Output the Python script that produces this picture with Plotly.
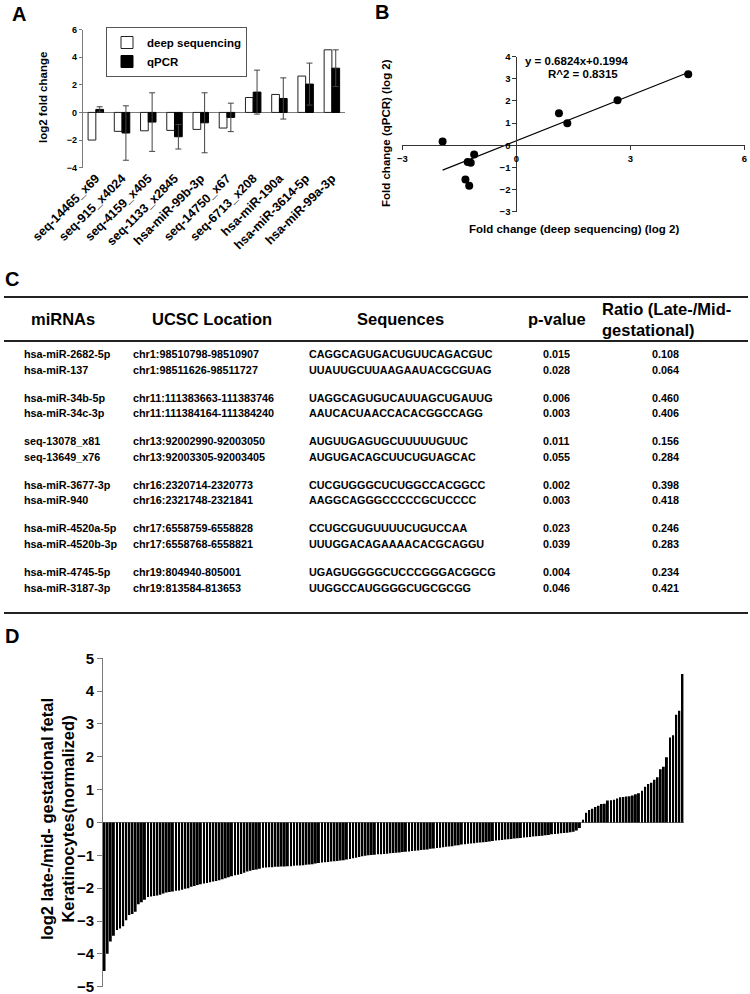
import plotly.graph_objects as go

W, H = 750, 994

# ---------------- Panel A data ----------------
a_categories = ["seq-14465_x69", "seq-915_x4024", "seq-4159_x405", "seq-1133_x2845",
                "hsa-miR-99b-3p", "seq-14750_x67", "seq-6713_x208", "hsa-miR-190a",
                "hsa-miR-3614-5p", "hsa-miR-99a-3p"]
a_deep_seq = [-2.00, -1.37, -1.33, -1.30, -1.23, -1.13, 1.08, 1.30, 2.63, 4.53]
a_qpcr = [0.22, -1.49, -0.70, -1.76, -0.75, -0.36, 1.47, 1.01, 2.05, 3.20]
a_qpcr_err = [0.19, 1.97, 2.12, 0.89, 2.17, 1.03, 1.59, 1.49, 1.52, 1.33]
a_yticks = [-4, -2, 0, 2, 4, 6]

# ---------------- Panel B data ----------------
b_deep_seq = [-1.94, -1.34, -1.24, -1.28, -1.20, -1.11, 1.12, 1.34, 2.66, 4.52]
b_qpcr = [0.17, -1.55, -1.83, -0.76, -0.79, -0.42, 1.45, 1.00, 2.03, 3.21]
b_fit = [0.6824, 0.1994]  # slope, intercept
b_eq_text = ["y = 0.6824x+0.1994", "R^2 = 0.8315"]
b_xticks = [-3, 0, 3, 6]
b_yticks = [-3, -2, -1, 0, 1, 2, 3, 4]

# ---------------- Panel C data ----------------
c_headers = ["miRNAs", "UCSC Location", "Sequences", "p-value", "Ratio (Late-/Mid-<br>gestational)"]
c_mirnas = ["hsa-miR-2682-5p", "hsa-miR-137", "hsa-miR-34b-5p", "hsa-miR-34c-3p",
            "seq-13078_x81", "seq-13649_x76", "hsa-miR-3677-3p", "hsa-miR-940",
            "hsa-miR-4520a-5p", "hsa-miR-4520b-3p", "hsa-miR-4745-5p", "hsa-miR-3187-3p"]
c_locations = ["chr1:98510798-98510907", "chr1:98511626-98511727",
               "chr11:111383663-111383746", "chr11:111384164-111384240",
               "chr13:92002990-92003050", "chr13:92003305-92003405",
               "chr16:2320714-2320773", "chr16:2321748-2321841",
               "chr17:6558759-6558828", "chr17:6558768-6558821",
               "chr19:804940-805001", "chr19:813584-813653"]
c_sequences = ["CAGGCAGUGACUGUUCAGACGUC", "UUAUUGCUUAAGAAUACGCGUAG",
               "UAGGCAGUGUCAUUAGCUGAUUG", "AAUCACUAACCACACGGCCAGG",
               "AUGUUGAGUGCUUUUUGUUC", "AUGUGACAGCUUCUGUAGCAC",
               "CUCGUGGGCUCUGGCCACGGCC", "AAGGCAGGGCCCCCGCUCCCC",
               "CCUGCGUGUUUUCUGUCCAA", "UUUGGACAGAAAACACGCAGGU",
               "UGAGUGGGGCUCCCGGGACGGCG", "UUGGCCAUGGGGCUGCGCGG"]
c_pvalues = ["0.015", "0.028", "0.006", "0.003", "0.011", "0.055",
             "0.002", "0.003", "0.023", "0.039", "0.004", "0.046"]
c_ratios = ["0.108", "0.064", "0.460", "0.406", "0.156", "0.284",
            "0.398", "0.418", "0.246", "0.283", "0.234", "0.421"]

# ---------------- Panel D data ----------------
d_negative = [-4.52, -4.00, -3.62, -3.45, -3.27, -3.23, -3.16, -2.98, -2.82, -2.79,
              -2.72, -2.49, -2.43, -2.35, -2.27, -2.25, -2.24, -2.22, -2.20, -2.16,
              -2.13, -2.12, -2.10, -2.08, -2.07, -2.05, -2.02, -2.00, -1.96, -1.93,
              -1.90, -1.88, -1.86, -1.84, -1.82, -1.80, -1.78, -1.76, -1.73, -1.70,
              -1.67, -1.64, -1.61, -1.59, -1.57, -1.53, -1.49, -1.47, -1.45, -1.43,
              -1.41, -1.38, -1.37, -1.36, -1.36, -1.35, -1.35, -1.34, -1.34, -1.33,
              -1.33, -1.32, -1.31, -1.31, -1.30, -1.29, -1.28, -1.27, -1.25, -1.23,
              -1.22, -1.21, -1.20, -1.19, -1.18, -1.17, -1.16, -1.15, -1.13, -1.11,
              -1.09, -1.07, -1.05, -1.03, -1.01, -1.00, -0.99, -0.98, -0.97, -0.97,
              -0.96, -0.95, -0.94, -0.93, -0.92, -0.91, -0.90, -0.89, -0.88, -0.87,
              -0.86, -0.85, -0.84, -0.83, -0.82, -0.80, -0.79, -0.78, -0.77, -0.75,
              -0.74, -0.73, -0.72, -0.70, -0.69, -0.67, -0.66, -0.65, -0.64, -0.63,
              -0.62, -0.61, -0.60, -0.59, -0.58, -0.56, -0.55, -0.54, -0.53, -0.52,
              -0.51, -0.50, -0.49, -0.48, -0.47, -0.46, -0.45, -0.44, -0.43, -0.42,
              -0.41, -0.40, -0.39, -0.38, -0.36, -0.35, -0.34, -0.33, -0.32, -0.31,
              -0.30, -0.28, -0.24, -0.17]
d_positive = [0.08, 0.30, 0.38, 0.42, 0.47, 0.51, 0.56, 0.57, 0.67, 0.68,
              0.69, 0.73, 0.77, 0.78, 0.79, 0.80, 0.82, 0.86, 0.89, 0.97,
              1.09, 1.17, 1.21, 1.30, 1.38, 1.62, 1.70, 1.99, 2.59, 2.66,
              3.28, 3.40, 4.52]
d_values = d_negative + d_positive
d_yticks = [-5, -4, -3, -2, -1, 0, 1, 2, 3, 4, 5]

# ---------------- helpers ----------------
FONT = "Liberation Sans, Arial, Helvetica, sans-serif"


def fx(p):
    return p / W


def fy(p):
    return 1 - p / H


def bold(size, family=FONT):
    return dict(family=family, size=size, color="black", weight="bold")


AX_COLOR = "#7a7a7a"

fig = go.Figure()

# ---------------- Panel A ----------------
fig.add_trace(go.Bar(
    x=a_categories, y=a_deep_seq, name="deep sequencing",
    marker=dict(color="white", line=dict(color="#222", width=1)),
    xaxis="x", yaxis="y"))
fig.add_trace(go.Bar(
    x=a_categories, y=a_qpcr, name="qPCR",
    marker=dict(color="black", line=dict(color="black", width=1)),
    error_y=dict(type="data", array=a_qpcr_err, color="#444", thickness=1, width=3),
    xaxis="x", yaxis="y"))

a_dom_x = [fx(82.7), fx(345)]
a_dom_y = [fy(167.7), fy(29.5)]
a_range = [-4, 6]
a_zero_pos = a_dom_y[0] + (0 - a_range[0]) / (a_range[1] - a_range[0]) * (a_dom_y[1] - a_dom_y[0])

# ---------------- Panel B ----------------
fig.add_trace(go.Scatter(
    x=b_deep_seq, y=b_qpcr, mode="markers",
    marker=dict(color="black", size=8), showlegend=False,
    xaxis="x2", yaxis="y2"))
fit_x = [min(b_deep_seq), max(b_deep_seq)]
fit_y = [b_fit[0] * v + b_fit[1] for v in fit_x]
fig.add_trace(go.Scatter(
    x=fit_x, y=fit_y, mode="lines", line=dict(color="black", width=1.2),
    showlegend=False, xaxis="x2", yaxis="y2"))

b_range_x = [-3, 6]
b_range_y = [-3, 4]
b_dom_x = [fx(402.3), fx(744.5)]
b_dom_y = [fy(211.7), fy(56.7)]
b_xpos = b_dom_y[0] + (0 - b_range_y[0]) / (b_range_y[1] - b_range_y[0]) * (b_dom_y[1] - b_dom_y[0])
b_ypos = b_dom_x[0] + (0 - b_range_x[0]) / (b_range_x[1] - b_range_x[0]) * (b_dom_x[1] - b_dom_x[0])

# ---------------- Panel D ----------------
n_d = len(d_values)
fig.add_trace(go.Bar(
    x=list(range(n_d)), y=d_values, width=0.62,
    marker=dict(color="black", line=dict(width=0)), showlegend=False,
    xaxis="x3", yaxis="y3"))
d_dom_x = [fx(103), fx(684)]
d_dom_y = [fy(986.7), fy(658.3)]

# ---------------- Layout ----------------
axis_common = dict(showgrid=False, automargin=False)

fig.update_layout(
    width=W, height=H, autosize=False,
    margin=dict(l=0, r=0, t=0, b=0),
    paper_bgcolor="white", plot_bgcolor="rgba(0,0,0,0)",
    font=dict(family=FONT, color="black"),
    barmode="group", bargap=0.41, bargroupgap=0.0,
    legend=dict(x=fx(106), y=fy(27), xanchor="left", yanchor="top",
                bordercolor="#555", borderwidth=1, bgcolor="white",
                font=bold(11.5), tracegroupgap=0, itemwidth=30),
    xaxis=dict(domain=a_dom_x, anchor="y", range=[-0.5, len(a_categories) - 0.5],
               showline=False, ticks="", tickangle=-45, tickfont=bold(12.5),
               zeroline=False, **axis_common),
    yaxis=dict(domain=a_dom_y, anchor="x", range=a_range, tickvals=a_yticks,
               showline=True, linecolor=AX_COLOR, linewidth=1,
               ticks="outside", ticklen=3, tickcolor=AX_COLOR, tickfont=bold(9),
               zeroline=True, zerolinecolor=AX_COLOR, zerolinewidth=1, **axis_common),
    xaxis4=dict(overlaying="x", anchor="free", position=a_zero_pos, side="top",
                range=[-0.5, len(a_categories) - 0.5],
                tickvals=[i + 0.5 for i in range(len(a_categories))],
                ticks="outside", ticklen=3, tickcolor=AX_COLOR,
                showticklabels=False, showline=False, zeroline=False, **axis_common),
    xaxis2=dict(domain=b_dom_x, anchor="free", position=b_xpos, range=b_range_x,
                tickvals=b_xticks, ticks="outside", ticklen=4, tickcolor="#333",
                showline=True, linecolor="#333", linewidth=1, tickfont=bold(9.5),
                zeroline=False, **axis_common),
    yaxis2=dict(domain=b_dom_y, anchor="free", position=b_ypos, range=b_range_y,
                tickvals=b_yticks, ticks="outside", ticklen=4, tickcolor="#333",
                showline=True, linecolor="#333", linewidth=1, tickfont=bold(9.5),
                zeroline=False, **axis_common),
    xaxis3=dict(domain=d_dom_x, anchor="y3", range=[-0.5, n_d - 0.5],
                showticklabels=False, ticks="", showline=False, zeroline=False,
                **axis_common),
    yaxis3=dict(domain=d_dom_y, anchor="x3", range=[-5, 5], tickvals=d_yticks,
                showline=True, linecolor=AX_COLOR, linewidth=1,
                ticks="outside", ticklen=5, tickcolor=AX_COLOR, tickfont=bold(15),
                ticklabeloverflow="allow",
                zeroline=True, zerolinecolor=AX_COLOR, zerolinewidth=1.2,
                **axis_common),
)

ann = []


def add_text(x, y, text, font, xanchor="center", yanchor="middle", angle=0, align="center"):
    ann.append(dict(x=fx(x), y=fy(y), xref="paper", yref="paper", text=text,
                    showarrow=False, font=font, xanchor=xanchor, yanchor=yanchor,
                    textangle=angle, align=align))


# Panel letters
add_text(10, 14, "A", bold(20), xanchor="left")
add_text(373, 12, "B", bold(20), xanchor="left")
add_text(3, 279, "C", bold(20), xanchor="left")
add_text(3, 636, "D", bold(20), xanchor="left")

# Axis titles
add_text(43, 98, "log2 fold change", bold(11.5), angle=-90)
add_text(574, 229, "Fold change (deep sequencing) (log 2)", bold(11.5))
add_text(386, 133, "Fold change (qPCR) (log 2)", bold(11.5), angle=-90)
add_text(57, 819, "log2 late-/mid- gestational fetal<br>Keratinocytes(normalized)", bold(16.5), angle=-90)

# Panel B equation
add_text(577, 61, b_eq_text[0], bold(11.5))
add_text(583, 74, b_eq_text[1], bold(11.5))

# Panel C table
header_y = 319
hf = bold(16.5)
add_text(63, header_y, c_headers[0], hf)
add_text(212, header_y, c_headers[1], hf)
add_text(400, header_y, c_headers[2], hf)
add_text(557, header_y, c_headers[3], hf)
add_text(600, header_y, c_headers[4], hf, xanchor="left", align="left")

chroms = [loc.split(":")[0] for loc in c_locations]
group = -1
within = 0
for i in range(len(c_mirnas)):
    if i == 0 or chroms[i] != chroms[i - 1]:
        group += 1
        within = 0
    else:
        within += 1
    y = 354 + group * 43.6 + within * 15.6
    f = bold(10.8)
    add_text(22, y, c_mirnas[i], f, xanchor="left")
    add_text(131, y, c_locations[i], f, xanchor="left")
    add_text(307, y, c_sequences[i], f, xanchor="left")
    add_text(556, y, c_pvalues[i], f)
    add_text(665, y, c_ratios[i], f)

shapes = []
for yl in [297, 341, 613]:
    shapes.append(dict(type="line", xref="paper", yref="paper",
                       x0=fx(4), x1=fx(748), y0=fy(yl), y1=fy(yl),
                       line=dict(color="#222", width=2)))

fig.update_layout(annotations=ann, shapes=shapes)

fig.write_html("out.html", config={"displayModeBar": False},
               post_script="document.body.style.margin='0';document.body.style.padding='0';")
